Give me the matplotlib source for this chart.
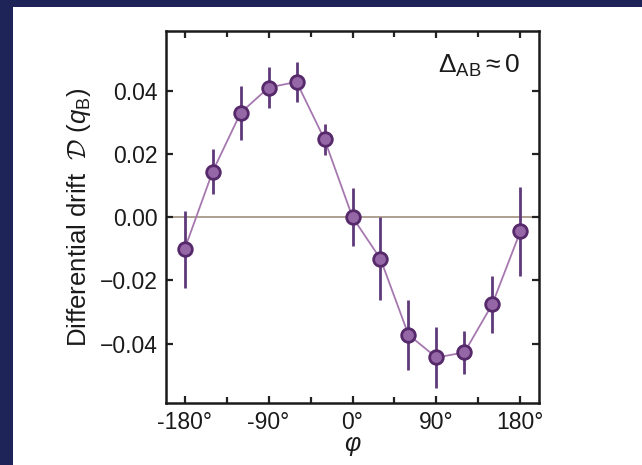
import matplotlib
matplotlib.use("Agg")
import matplotlib.pyplot as plt
from matplotlib.patches import Rectangle

plt.rcParams['font.family'] = ['Liberation Sans', 'DejaVu Sans']
plt.rcParams['mathtext.fontset'] = 'custom'
plt.rcParams['mathtext.rm'] = 'Liberation Sans'
plt.rcParams['mathtext.it'] = 'Liberation Sans:italic'
plt.rcParams['mathtext.bf'] = 'Liberation Sans:bold'
plt.rcParams['mathtext.cal'] = 'cmsy10'

# Relative phase (degrees) and measured differential drift with uncertainties
phase = [-180, -150, -120, -90, -60, -30, 0, 30, 60, 90, 120, 150, 180]
drift = [-0.0101, 0.0144, 0.0330, 0.0410, 0.0428, 0.0246, 0.0000,
         -0.0132, -0.0372, -0.0444, -0.0428, -0.0275, -0.0045]
drift_err = [0.0122, 0.0071, 0.0085, 0.0066, 0.0063, 0.0050, 0.0091,
             0.0131, 0.0111, 0.0097, 0.0068, 0.0090, 0.0140]

x_major = [-180, -90, 0, 90, 180]
x_major_labels = ['-180°', '-90°', '0°', '90°', '180°']
x_minor = [-135, -45, 45, 135]
y_ticks = [-0.04, -0.02, 0.00, 0.02, 0.04]
y_tick_labels = ['\u22120.04', '\u22120.02', '0.00', '0.02', '0.04']

navy = '#1e2458'
line_col = '#a678b0'
bar_col = '#5f3a7a'
face_col = '#9667a6'
edge_col = '#55296a'

fig = plt.figure(figsize=(6.42, 4.65), dpi=100, facecolor=navy)
fig.patches.append(Rectangle((13 / 642, 0), 1 - 13 / 642, 1 - 7 / 465,
                             transform=fig.transFigure, facecolor='white',
                             edgecolor='none', zorder=-10))

ax = fig.add_axes([166 / 642, 1 - 403 / 465, (539 - 166) / 642, (403 - 31) / 465])
ax.set_facecolor('white')

ax.axhline(0, color='#a89888', lw=1.3, zorder=1)
ax.plot(phase, drift, color=line_col, lw=1.3, zorder=2)
ax.errorbar(phase, drift, yerr=drift_err, fmt='none', ecolor=bar_col,
            elinewidth=2.0, capsize=0, zorder=3)
ax.plot(phase, drift, ls='none', marker='o', ms=9.8, mfc=face_col,
        mec=edge_col, mew=2.0, zorder=4)

ax.set_xlim(-200, 200)
ax.set_ylim(-0.0588, 0.0589)
ax.set_xticks(x_major)
ax.set_xticklabels(x_major_labels)
ax.set_xticks(x_minor, minor=True)
ax.set_yticks(y_ticks)
ax.set_yticklabels(y_tick_labels)

ax.tick_params(which='both', direction='in', top=True, right=True,
               width=1.6, labelsize=16.5, color='#222222', labelcolor='#1a1a1a')
ax.tick_params(which='major', length=5, pad=6)
ax.tick_params(which='minor', length=4)
for s in ax.spines.values():
    s.set_linewidth(1.8)
    s.set_color('#1a1a1a')

ax.set_ylabel(r'Differential drift  $\mathcal{D}$ $(q_{\mathrm{B}})$',
              fontsize=18.5, color='#1a1a1a', labelpad=5)
ax.set_xlabel(r'$\varphi$', fontsize=18, color='#1a1a1a', labelpad=0)

ax.text(0.95, 0.905, r'$\Delta_{\mathrm{AB}}\approx0$', transform=ax.transAxes,
        ha='right', va='center', fontsize=19, color='#1a1a1a')

fig.savefig('out.png', dpi=100, facecolor=navy)
